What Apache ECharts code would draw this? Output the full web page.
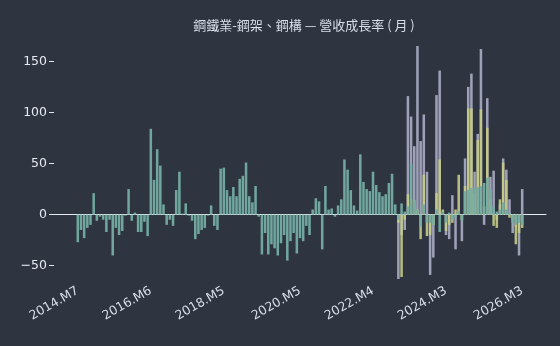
<!DOCTYPE html>
<html>
<head>
<meta charset="utf-8">
<script src="https://cdn.jsdelivr.net/npm/echarts@6/dist/echarts.min.js"></script>
<style>
  html, body { margin: 0; padding: 0; background: #2e3440; }
  #c1 { width: 560px; height: 346px; }
</style>
</head>
<body>
<div id="c1"></div>
<script>
// month axis: 2013.M12 .. 2026.M10 (data runs 2014.M7 .. 2026.M3)
var firstYear = 2013, firstMonth = 12, monthCount = 155;
var padBefore = 7;   // months before 2014.M7
var tickLabels = ['2014.M7', '2016.M6', '2018.M5', '2020.M5', '2022.M4', '2024.M3', '2026.M3'];
var yTicks = [-50, 0, 50, 100, 150];

// 2014.M7 .. 2026.M3
var tealValues = [
  -27, -15, -23, -13, -10, 21, -6, -2, -5, -17, -5, -40, -13, -20, -16, -1, 25, -6, 2, -17,
  -17, -7, -21, 84, 34, 64, 48, 10, -10, -5, -11, 24, 42, 1, 11, -1, -6, -24, -19, -15,
  -13, -1, 9, -11, -15, 45, 46, 24, 18, 27, 18, 35, 38, 51, 18, 12, 28, -2, -39, -18,
  -39, -29, -33, -40, -28, -20, -45, -26, -18, -38, -23, -26, -11, -20, 5, 16, 13, -34, 28, 5,
  6, -2, 9, 15, 54, 44, 24, 9, 4, 59, 32, 25, 23, 42, 29, 22, 18, 20, 31, 40,
  10, -5, 11, 3, 8, 50, 14, 5, -12, 10, -8, -8, -10, 5, -17, 3, -8, 2, -5, -3,
  4, -6, 23, 24, 26, 26, 27, 28, 31, 36, 25, 8, 3, 5, 12, 5, 2, -8, -10, -8,
  -10
];
// 2022.M12 .. 2026.M3
var lavenderValues = [
  -63, -20, -15, 116, 96, 67, 165, 72, 98, 42, -59, -42, 117, 141, 2, -20, -24, 19, -34, 5,
  -26, 55, 125, 138, 42, 79, 162, -10, 114, 37, 43, -5, 10, 55, 44, 15, -18, -12, -40, 25
];
var yellowValues = [
  -8, -61, -5, 20, 15, 14, 5, -24, 39, -21, -20, -10, 21, 54, 5, -16, -10, -8, 5, 39,
  -5, 28, 104, 104, 20, 73, 103, 8, 85, 15, -11, -13, 15, 51, 34, -3, -5, -29, -18, -13
];
var lateStart = 101; // 2022.M12 offset from 2014.M7

var months = [];
for (var k = 0; k < monthCount; k++) {
    var t = firstYear * 12 + (firstMonth - 1) + k;
    months.push(Math.floor(t / 12) + '.M' + (t % 12 + 1));
}

function place(values, offset) {
    var arr = [];
    for (var k = 0; k < monthCount; k++) {
        var j = k - offset;
        arr.push(j >= 0 && j < values.length ? values[j] : null);
    }
    return arr;
}

function showTick(index, value) {
    return tickLabels.indexOf(value) >= 0;
}

var chart = echarts.init(document.getElementById('c1'));
var option = {
    backgroundColor: '#2e3440',
    animation: false,
    title: {
        text: '鋼鐵業-鋼架、鋼構 — 營收成長率 ( 月 )',
        left: 299,
        top: 14,
        textAlign: 'center',
        textStyle: {
            color: '#d8dee9',
            fontSize: 13,
            fontWeight: 'normal',
            fontFamily: 'Noto Sans CJK TC'
        }
    },
    grid: {
        left: 54,
        right: 14,
        top: 45,
        bottom: 67,
        outerBoundsMode: 'none'
    },
    xAxis: {
        type: 'category',
        data: months,
        boundaryGap: true,
        axisLine: { lineStyle: { color: '#e5e9f0', width: 1 } },
        axisTick: {
            alignWithLabel: true,
            interval: showTick,
            length: 5,
            lineStyle: { color: '#e5e9f0' }
        },
        axisLabel: {
            interval: showTick,
            rotate: 30,
            margin: 11,
            color: '#d8dee9',
            fontSize: 12.5,
            fontFamily: 'DejaVu Sans'
        },
        splitLine: { show: false }
    },
    yAxis: {
        type: 'value',
        min: -63,
        max: 166,
        axisLine: { show: false },
        splitLine: { show: false },
        axisTick: {
            show: true,
            length: 5,
            customValues: yTicks,
            lineStyle: { color: '#e5e9f0' }
        },
        axisLabel: {
            customValues: yTicks,
            margin: 7,
            color: '#e5e9f0',
            fontSize: 12.5,
            fontFamily: 'DejaVu Sans',
            formatter: function (v) { return String(v).replace('-', '\u2212'); }
        }
    },
    series: [
        {
            name: 'B',
            type: 'bar',
            barWidth: '80%',
            barGap: '-100%',
            itemStyle: { color: '#a9aac2', opacity: 0.92 },
            data: place(lavenderValues, padBefore + lateStart)
        },
        {
            name: 'C',
            type: 'bar',
            barWidth: '80%',
            barGap: '-100%',
            itemStyle: { color: '#c5cc85', opacity: 0.9 },
            data: place(yellowValues, padBefore + lateStart)
        },
        {
            name: 'A',
            type: 'bar',
            barWidth: '80%',
            barGap: '-100%',
            itemStyle: { color: '#74ada3', opacity: 0.95 },
            data: place(tealValues, padBefore)
        }
    ]
};
chart.setOption(option);
</script>
</body>
</html>
